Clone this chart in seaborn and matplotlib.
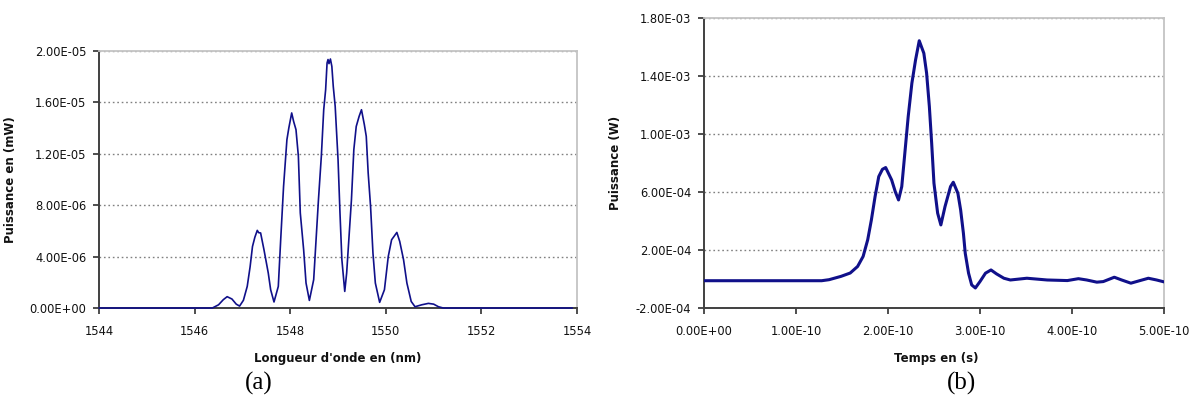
import matplotlib
matplotlib.use("Agg")
import matplotlib.pyplot as plt
import seaborn as sns
import pandas as pd
from matplotlib.ticker import FuncFormatter

# (a) optical spectrum: wavelength (nm) vs power (x1e-6 mW)
wavelength_nm = [1544.0, 1546.37, 1546.50, 1546.60, 1546.68, 1546.78, 1546.87, 1546.94,
                 1547.02, 1547.10, 1547.16, 1547.21, 1547.26, 1547.31, 1547.34, 1547.38,
                 1547.45, 1547.54, 1547.59, 1547.66, 1547.75, 1547.80, 1547.86, 1547.93,
                 1547.97, 1548.03, 1548.07, 1548.12, 1548.17, 1548.21, 1548.28, 1548.33,
                 1548.40, 1548.49, 1548.54, 1548.59, 1548.65, 1548.70, 1548.74, 1548.77,
                 1548.79, 1548.81, 1548.84, 1548.87, 1548.90, 1548.94, 1549.00, 1549.04,
                 1549.08, 1549.14, 1549.18, 1549.22, 1549.28, 1549.33, 1549.38, 1549.44,
                 1549.49, 1549.55, 1549.59, 1549.63, 1549.68, 1549.73, 1549.78, 1549.87,
                 1549.97, 1550.05, 1550.12, 1550.18, 1550.23, 1550.29, 1550.37, 1550.44,
                 1550.53, 1550.61, 1550.75, 1550.89, 1551.00, 1551.10, 1551.20, 1553.90]
spectrum_uW = [0.0, 0.0, 0.25, 0.65, 0.88, 0.70, 0.30, 0.15,
               0.60, 1.68, 3.20, 4.78, 5.50, 6.03, 5.85, 5.83,
               4.53, 2.72, 1.42, 0.47, 1.68, 5.30, 9.44, 13.07,
               13.98, 15.15, 14.50, 13.85, 11.78, 7.38, 4.53, 1.94,
               0.59, 2.20, 5.30, 8.41, 11.78, 15.40, 16.95, 19.03,
               19.30, 18.98, 19.34, 18.77, 17.20, 15.66, 11.50, 7.40,
               3.75, 1.29, 2.72, 5.00, 8.41, 12.30, 14.10, 14.88,
               15.40, 14.24, 13.33, 10.49, 7.89, 4.27, 1.94, 0.44,
               1.42, 4.00, 5.30, 5.61, 5.87, 5.17, 3.75, 1.94,
               0.51, 0.10, 0.25, 0.36, 0.30, 0.10, 0.0, 0.0]

# (b) temporal pulse: time (x1e-10 s) vs power (x1e-4 W)
time_e10 = [0.00, 1.28, 1.36, 1.49, 1.59, 1.67, 1.73, 1.78, 1.82, 1.86, 1.90, 1.94,
            1.975, 2.04, 2.08, 2.115, 2.15, 2.19, 2.22, 2.26, 2.30, 2.34, 2.39, 2.42,
            2.45, 2.475, 2.50, 2.54, 2.575, 2.62, 2.68, 2.71, 2.76, 2.79, 2.82, 2.84,
            2.876, 2.91, 2.95, 3.00, 3.06, 3.12, 3.18, 3.26, 3.33, 3.51, 3.73, 3.95,
            4.07, 4.16, 4.27, 4.34, 4.46, 4.54, 4.64, 4.74, 4.83, 4.92, 5.00]
pulse_e4 = [-0.12, -0.12, -0.05, 0.18, 0.41, 0.86, 1.55, 2.70, 4.07, 5.67, 7.05, 7.55,
            7.67, 6.82, 6.00, 5.44, 6.36, 9.11, 11.18, 13.48, 15.08, 16.40, 15.54, 14.17,
            11.87, 9.35, 6.59, 4.53, 3.72, 4.98, 6.36, 6.66, 5.90, 4.75, 3.15, 1.77,
            0.40, -0.41, -0.62, -0.18, 0.40, 0.62, 0.35, 0.05, -0.07, 0.05, -0.07, -0.11,
            0.02, -0.07, -0.22, -0.18, 0.12, -0.07, -0.29, -0.11, 0.05, -0.07, -0.20]

a_xticks = [1544, 1546, 1548, 1550, 1552, 1554]
a_yticks = [0.0, 4e-6, 8e-6, 1.2e-5, 1.6e-5, 2e-5]
b_xticks = [0.0, 1e-10, 2e-10, 3e-10, 4e-10, 5e-10]
b_yticks = [-2e-4, 2e-4, 6e-4, 1e-3, 1.4e-3, 1.8e-3]

sns.set_theme(style="white")
plt.rcParams["font.family"] = ["DejaVu Sans"]

df_a = pd.DataFrame({"wl": wavelength_nm, "p": [v * 1e-6 for v in spectrum_uW]})
df_b = pd.DataFrame({"t": [v * 1e-10 for v in time_e10], "p": [v * 1e-4 for v in pulse_e4]})

fig = plt.figure(figsize=(11.99, 4.07), dpi=100)
ax_a = fig.add_axes([0.0826, 0.2432, 0.3987, 0.6327])
ax_b = fig.add_axes([0.5871, 0.2432, 0.3837, 0.7138])

line_color = "#10108a"
sns.lineplot(data=df_a, x="wl", y="p", ax=ax_a, color=line_color, linewidth=1.2,
             estimator=None, sort=False, zorder=4, clip_on=False)
sns.lineplot(data=df_b, x="t", y="p", ax=ax_b, color=line_color, linewidth=2.2,
             estimator=None, sort=False, zorder=4)

sci = FuncFormatter(lambda v, pos: f"{v:.2E}")
tick_font = 8.3

for ax, xt, yt in ((ax_a, a_xticks, a_yticks), (ax_b, b_xticks, b_yticks)):
    ax.set_xlim(xt[0], xt[-1])
    ax.set_ylim(yt[0], yt[-1])
    ax.set_xticks(xt)
    ax.set_yticks(yt)
    ax.yaxis.set_major_formatter(sci)
    ax.tick_params(axis="both", direction="out", length=4, width=1.2, color="#303030",
                   labelsize=tick_font, labelcolor="#111111", pad=5)
    ax.tick_params(axis="x", pad=8)
    ax.tick_params(left=True, bottom=True)
    ax.yaxis.grid(True, linestyle=(0, (1.2, 2.0)), color="#808080", linewidth=1.0)
    ax.xaxis.grid(False)
    ax.set_axisbelow(True)
    for side in ("left", "bottom"):
        ax.spines[side].set_color("#404040")
        ax.spines[side].set_linewidth(1.4)
    for side in ("top", "right"):
        ax.spines[side].set_color("#c4c4c4")
        ax.spines[side].set_linewidth(1.3)

ax_b.xaxis.set_major_formatter(sci)

label_kw = dict(fontsize=8.5, fontweight="bold", color="#111111")
ax_a.set_xlabel("Longueur d'onde en (nm)", **label_kw)
ax_a.set_ylabel("Puissance en (mW)", **label_kw)
ax_b.set_xlabel("Temps en (s)", **label_kw)
ax_b.set_ylabel("Puissance (W)", **label_kw)
ax_a.xaxis.set_label_coords(0.5, -0.171)
ax_a.yaxis.set_label_coords(-0.1715, 0.5)
ax_b.xaxis.set_label_coords(0.504, -0.151)
ax_b.yaxis.set_label_coords(-0.178, 0.5)

fig.text(259 / 1199, 1 - 383 / 407, "(a)", family="Liberation Serif", fontsize=18,
         ha="center", va="center", color="black")
fig.text(962 / 1199, 1 - 383 / 407, "(b)", family="Liberation Serif", fontsize=18,
         ha="center", va="center", color="black")

fig.savefig("out.png", dpi=100, facecolor="white")
